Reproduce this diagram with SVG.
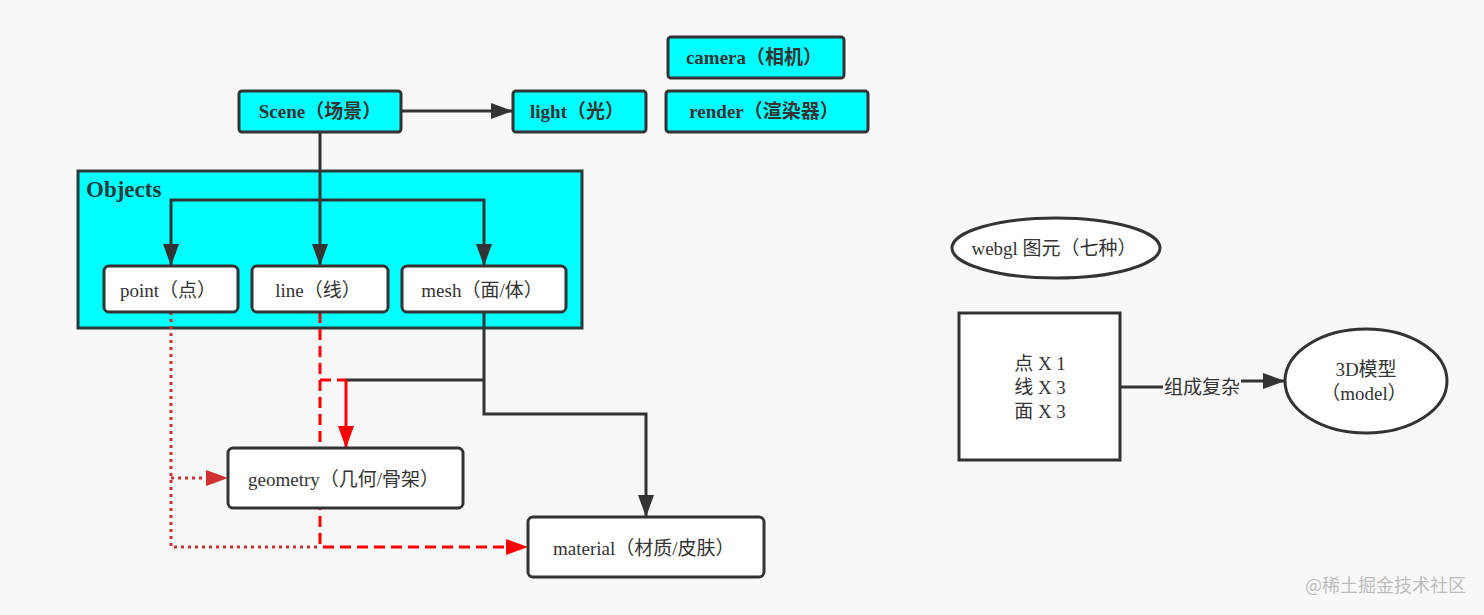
<svg xmlns="http://www.w3.org/2000/svg" width="1484" height="615" viewBox="0 0 1484 615">
<defs>
<style>
.hdr{fill:#00ffff;stroke:#333;stroke-width:3}
.box{fill:#fff;stroke:#333;stroke-width:3}
.t{font-family:"Liberation Serif","Noto Sans CJK SC",serif;font-size:19px;fill:#333}
.b{font-weight:bold}
.blk{fill:none;stroke:#333;stroke-width:3}
.dot{fill:none;stroke:#d42f2f;stroke-width:3;stroke-dasharray:3 4}
.dash{fill:none;stroke:#ff0000;stroke-width:3;stroke-dasharray:11 6}
.red{fill:none;stroke:#ff0000;stroke-width:3}
</style>
<marker id="ab" markerUnits="userSpaceOnUse" markerWidth="24" markerHeight="18" refX="22" refY="8" orient="auto"><path d="M0,0 L22,8 L0,16 Z" fill="#333"/></marker>
<marker id="ar" markerUnits="userSpaceOnUse" markerWidth="24" markerHeight="18" refX="22" refY="8" orient="auto"><path d="M0,0 L22,8 L0,16 Z" fill="#ff0000"/></marker>
<marker id="ad" markerUnits="userSpaceOnUse" markerWidth="24" markerHeight="18" refX="22" refY="8" orient="auto"><path d="M0,0 L22,8 L0,16 Z" fill="#d42f2f"/></marker>
</defs>
<rect width="1484" height="615" fill="#f8f8f8"/>

<g id="objects">
<rect x="78" y="171" width="504" height="157" fill="#00ffff" stroke="#2b3b3b" stroke-width="3"/>
<text x="86" y="197" font-family="Liberation Serif,serif" font-size="23" font-weight="bold" fill="#1f3b3b">Objects</text>
</g>

<g id="connectors">
<path class="blk" d="M401,111 H513" marker-end="url(#ab)"/>
<path class="blk" d="M320,132 V266" marker-end="url(#ab)"/>
<path class="blk" d="M320,200 H171 V266" marker-end="url(#ab)"/>
<path class="blk" d="M320,200 H484 V266" marker-end="url(#ab)"/>
<path class="blk" d="M484,312 V414 H646 V517" marker-end="url(#ab)"/>
<path class="blk" d="M484,380 H346"/>
<path class="dot" d="M171,312 V547 H320"/>
<path class="dot" d="M171,478 H228" marker-end="url(#ad)"/>
<path class="dash" d="M320,312 V547 H528" marker-end="url(#ar)"/>
<path class="dash" d="M320,380 H346"/>
<path class="red" d="M346,380 V448" marker-end="url(#ar)"/>
<path class="blk" d="M1120,387 H1200 V381 H1285" marker-end="url(#ab)"/>
<rect x="1163" y="374" width="78" height="24" fill="#f8f8f8"/>
<text x="1202" y="394" text-anchor="middle" font-family="Noto Sans CJK SC,sans-serif" font-size="19" fill="#333">组成复杂</text>
</g>

<g id="scene"><rect class="hdr" x="239" y="91" width="162" height="41" rx="3"/><text class="t b" x="320" y="118" text-anchor="middle">Scene（场景）</text></g>
<g id="light"><rect class="hdr" x="513" y="91" width="133" height="41" rx="3"/><text class="t b" x="577" y="118" text-anchor="middle">light（光）</text></g>
<g id="camera"><rect class="hdr" x="668" y="37" width="176" height="41" rx="3"/><text class="t b" x="754" y="64" text-anchor="middle">camera（相机）</text></g>
<g id="render"><rect class="hdr" x="666" y="91" width="202" height="41" rx="3"/><text class="t b" x="764" y="118" text-anchor="middle">render（渲染器）</text></g>

<g id="point"><rect class="box" x="104" y="266" width="134" height="46" rx="5"/><text class="t" x="168" y="297" text-anchor="middle">point（点）</text></g>
<g id="line"><rect class="box" x="252" y="266" width="136" height="46" rx="5"/><text class="t" x="318" y="297" text-anchor="middle">line（线）</text></g>
<g id="mesh"><rect class="box" x="402" y="266" width="164" height="46" rx="5"/><text class="t" x="482" y="297" text-anchor="middle">mesh（面/体）</text></g>
<g id="geometry"><rect class="box" x="228" y="448" width="235" height="60" rx="5"/><text class="t" x="248" y="486">geometry（几何/骨架）</text></g>
<g id="material"><rect class="box" x="528" y="517" width="236" height="60" rx="5"/><text class="t" x="553" y="555">material（材质/皮肤）</text></g>

<g id="webgl"><ellipse cx="1056" cy="248" rx="104" ry="30" fill="#fff" stroke="#333" stroke-width="3"/><text class="t" x="1054" y="255" text-anchor="middle">webgl 图元（七种）</text></g>
<g id="prims"><rect x="959" y="313" width="161" height="147" fill="#fff" stroke="#333" stroke-width="3"/>
<text class="t" x="1040" y="370" text-anchor="middle">点 X 1</text>
<text class="t" x="1040" y="394" text-anchor="middle">线 X 3</text>
<text class="t" x="1040" y="418" text-anchor="middle">面 X 3</text></g>
<g id="model"><ellipse cx="1366" cy="381" rx="81" ry="52" fill="#fff" stroke="#333" stroke-width="3"/>
<text class="t" x="1366" y="376" text-anchor="middle">3D模型</text>
<text class="t" x="1364" y="400" text-anchor="middle">（model）</text></g>

<text x="1305" y="592" font-family="Noto Sans CJK SC,sans-serif" font-size="18" fill="#bdbdbd">@稀土掘金技术社区</text>
</svg>
